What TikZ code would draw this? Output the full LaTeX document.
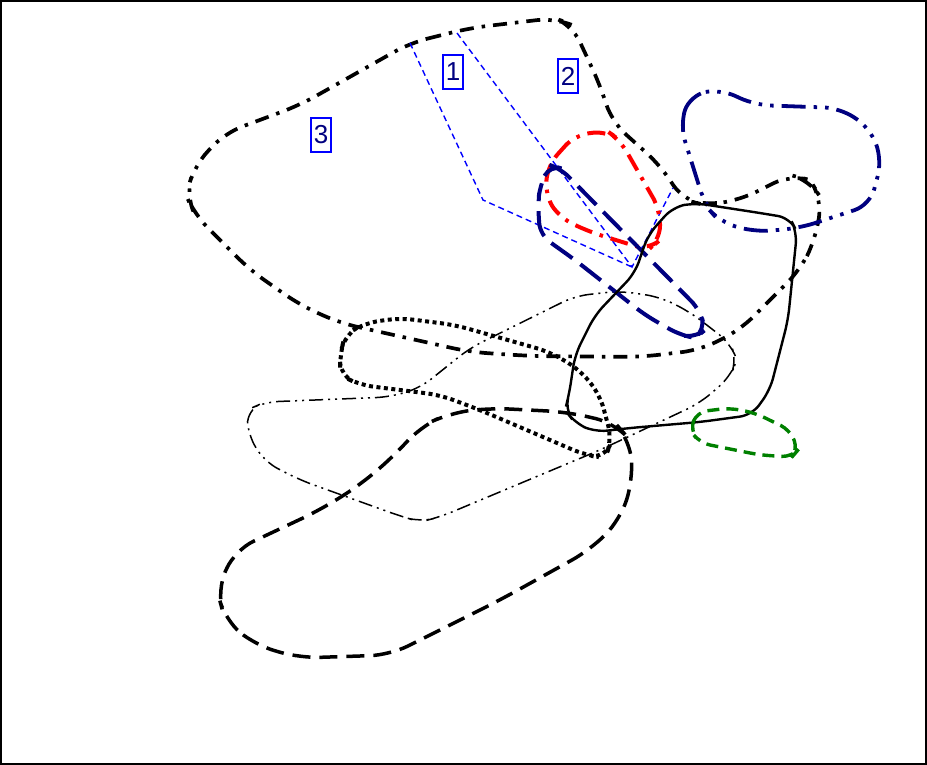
\documentclass[tikz,border=0pt]{standalone}
\usepackage{fontspec}
\setmainfont{Liberation Sans}
\definecolor{navy}{RGB}{0,0,128}
\definecolor{dgreen}{RGB}{0,128,0}
\begin{document}
\begin{tikzpicture}[x=1pt,y=-1pt,
  bigdd/.style={line width=3.7pt,dash pattern=on 14pt off 8pt on 3.5pt off 8pt,rounded corners=18pt},
  reddd/.style={red,line width=4pt,dash pattern=on 18pt off 8pt on 3.5pt off 8pt,rounded corners=14pt},
  navylong/.style={navy,line width=4pt,dash pattern=on 26pt off 10pt,rounded corners=12pt},
  navyddd/.style={navy,line width=3.8pt,dash pattern=on 24pt off 8pt on 3.5pt off 8pt on 3.5pt off 8pt,rounded corners=16pt},
  solidc/.style={line width=2.4pt,rounded corners=12pt},
  greend/.style={dgreen,line width=3.4pt,dash pattern=on 12pt off 7pt,rounded corners=10pt},
  blackd/.style={line width=3.5pt,dash pattern=on 18pt off 9pt,rounded corners=20pt},
  dotc/.style={line width=4pt,dash pattern=on 4pt off 3.5pt,rounded corners=14pt},
  thinddd/.style={line width=1.5pt,dash pattern=on 14pt off 5pt on 2pt off 5pt on 2pt off 5pt,rounded corners=14pt},
  bluedash/.style={blue,line width=1.4pt,dash pattern=on 6pt off 4pt},
  lab/.style={draw=blue,line width=1.7pt,text=navy,font=\fontsize{26}{28}\selectfont,inner sep=0pt,minimum width=20pt,minimum height=34pt}]
\useasboundingbox (0,0) rectangle (927,765);
\draw[line width=2.2pt] (1.1,1.1) rectangle (925.9,763.9);
% big black dash-dot
\draw[bigdd] (410,43) -- (470,28) -- (555,18) -- (572,25) -- (600,85) -- (612,122) -- (660,165) -- (683,200) -- (705,205) -- (740,200) -- (790,175) -- (810,180) -- (822,200) -- (815,240) -- (800,270) -- (740,330) -- (700,350) -- (640,357) -- (530,356) -- (470,352) -- (340,323) -- (300,305) -- (250,270) -- (195,215) -- (186,195) -- (195,165) -- (225,133) -- (300,105) -- cycle;
% blue dashed partition
\coordinate (b1) at (410,43);
\coordinate (b2) at (483,200);
\coordinate (b3) at (632,267);
\coordinate (b4) at (457,33);
\coordinate (b5) at (673,188);
\draw[bluedash] (b1) -- (b2) -- (b3);
\draw[bluedash] (b4) -- (b3) -- (b5);
% thin dash-dot-dot
\draw[thinddd] (247,410) -- (265,402) -- (390,397) -- (420,388) -- (470,348) -- (575,296) -- (620,291) -- (660,297) -- (690,312) -- (730,343) -- (737,360) -- (730,377) -- (700,403) -- (600,450) -- (440,517) -- (420,522) -- (400,516) -- (300,480) -- (265,462) -- (248,435) -- cycle;
% black dashed
\draw[blackd] (420,427) -- (450,413) -- (490,408) -- (567,412) -- (615,423) -- (630,440) -- (633,480) -- (620,520) -- (590,550) -- (500,600) -- (390,655) -- (300,658) -- (255,645) -- (225,620) -- (217,590) -- (235,550) -- (320,510) -- (360,485) -- (395,455) -- cycle;
% dotted
\draw[dotc] (340,355) -- (345,335) -- (365,323) -- (400,318) -- (455,325) -- (550,352) -- (580,370) -- (600,395) -- (612,440) -- (605,458) -- (585,455) -- (480,410) -- (440,395) -- (360,385) -- (340,375) -- cycle;
% navy dash-dot-dot
\draw[navyddd] (680,125) -- (690,95) -- (720,89) -- (755,105) -- (840,108) -- (870,128) -- (882,160) -- (870,205) -- (800,228) -- (755,232) -- (720,222) -- (705,205) -- cycle;
% red
\draw[reddd] (548,165) -- (575,135) -- (607,131) -- (620,140) -- (660,210) -- (660,240) -- (648,250) -- (590,232) -- (560,218) -- (545,195) -- cycle;
% navy long dash
\draw[navylong] (540,185) -- (550,165) -- (560,168) -- (700,310) -- (705,330) -- (695,338) -- (680,335) -- (645,315) -- (575,260) -- (540,235) -- (538,205) -- cycle;
% solid
\draw[solidc] (673,207) -- (695,203) -- (760,213) -- (790,218) -- (797,232) -- (788,320) -- (770,390) -- (752,415) -- (700,422) -- (630,428) -- (595,432) -- (575,423) -- (565,410) -- (569,395) -- (575,355) -- (595,315) -- (635,273) -- (648,235) -- cycle;
% green
\draw[greend] (690,430) -- (697,412) -- (730,408) -- (755,413) -- (790,430) -- (798,450) -- (792,457) -- (760,455) -- (700,443) -- cycle;
% labels
\node[lab] (n1) at (453,72) {1};
\node[lab] (n2) at (568,76) {2};
\node[lab] (n3) at (321,135) {3};
\end{tikzpicture}
\end{document}
